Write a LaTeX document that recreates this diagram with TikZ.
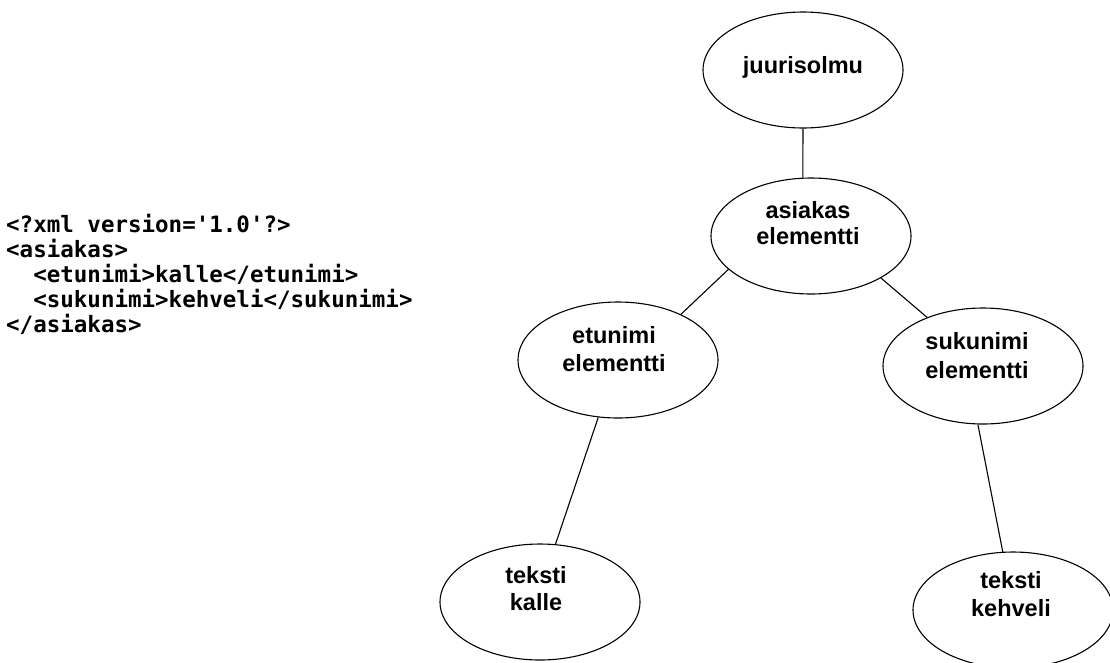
\documentclass[tikz,border=0pt]{standalone}
\usepackage{fontspec}
\setmainfont{Liberation Sans}
\setmonofont{DejaVu Sans Mono}
\usetikzlibrary{shapes.geometric}
\begin{document}
\begin{tikzpicture}[x=1pt,y=-1pt,
  ell/.style={draw=black,line width=1.1pt,ellipse,inner sep=0pt,
    minimum width=200pt,minimum height=116pt},
  lbl/.style={anchor=base,inner sep=0pt,font=\fontsize{23.5}{27}\selectfont\bfseries},
  edge/.style={draw=black,line width=1.1pt},
  codeline/.style={anchor=base west,inner sep=0pt,font=\fontsize{22.5}{25}\selectfont\ttfamily\bfseries}]
\useasboundingbox (0,0) rectangle (1110,662);
\fill[white] (0,0) rectangle (1110,662);
% code
\node[codeline] (c1) at (6,232) {<?xml version='1.0'?>};
\node[codeline] (c2) at (6,257) {<asiakas>};
\node[codeline] (c3) at (6,282) {\phantom{xx}<etunimi>kalle</etunimi>};
\node[codeline] (c4) at (6,307) {\phantom{xx}<sukunimi>kehveli</sukunimi>};
\node[codeline] (c5) at (6,332) {</asiakas>};
% ellipses
\node[ell] (root) at (803,70) {};
\node[ell] (asi) at (811,236) {};
\node[ell] (etu) at (618,360) {};
\node[ell] (suk) at (983,366) {};
\node[ell] (kal) at (540,602) {};
\node[ell] (keh) at (1013,610) {};
% labels
\node[lbl] (t1) at (803,73) {juurisolmu};
\node[lbl] (t2a) at (808,218) {asiakas};
\node[lbl] (t2b) at (808,244) {elementti};
\node[lbl] (t3a) at (614,343) {etunimi};
\node[lbl] (t3b) at (614,371) {elementti};
\node[lbl] (t4a) at (977,349) {sukunimi};
\node[lbl] (t4b) at (977,378) {elementti};
\node[lbl] (t5a) at (536,583) {teksti};
\node[lbl] (t5b) at (536,610) {kalle};
\node[lbl] (t6a) at (1011,588) {teksti};
\node[lbl] (t6b) at (1011,616) {kehveli};
% connectors
\draw[edge] (root.270) -- (asi.98);
\draw[edge] (asi.202) -- (etu.36);
\draw[edge] (asi.329) -- (suk.139);
\draw[edge] (etu.251) -- (kal.75);
\draw[edge] (suk.265) -- (keh.100);
\end{tikzpicture}
\end{document}
